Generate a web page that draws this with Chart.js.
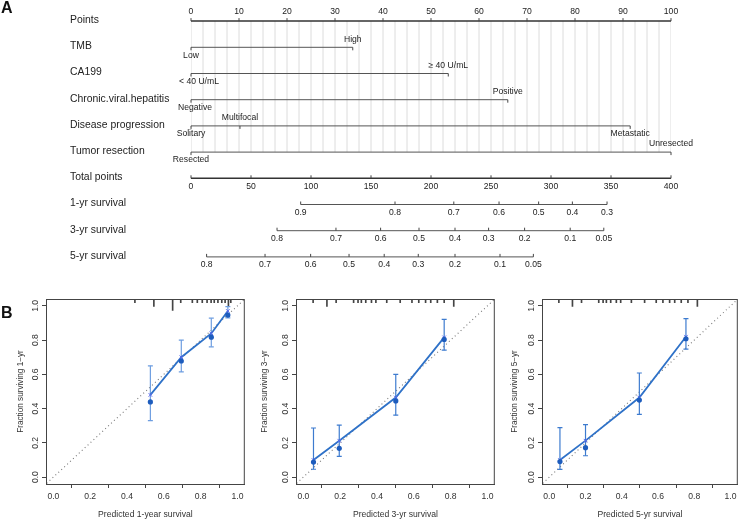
<!DOCTYPE html>
<html>
<head>
<meta charset="utf-8">
<script src="https://cdn.jsdelivr.net/npm/chart.js"></script>
<style>
    body { margin: 0; background: #fff; }
    #page { position: relative; width: 743px; height: 523px; overflow: hidden; font-family: 'Liberation Sans', Arial, sans-serif; }
    canvas { position: absolute; }
    .panel { position: absolute; font-weight: bold; font-size: 16px; color: #111; line-height: 18px; }
</style>
</head>
<body>
<div id="page">
    <canvas id="nomo" width="743" height="285" style="left:0;top:0"></canvas>
    <canvas id="cal1" width="250" height="238" style="left:0;top:285px"></canvas>
    <canvas id="cal3" width="250" height="238" style="left:250px;top:285px"></canvas>
    <canvas id="cal5" width="250" height="238" style="left:493px;top:285px"></canvas>
    <div class="panel" style="left:1px;top:-1px">A</div>
    <div class="panel" style="left:1px;top:304px">B</div>
</div>
<script>
// Nomogram (panel A)
const rowNames = ['Points', 'TMB', 'CA199', 'Chronic.viral.hepatitis', 'Disease progression',
    'Tumor resection', 'Total points', '1-yr survival', '3-yr survival', '5-yr survival'];
const pointTicks = [0, 10, 20, 30, 40, 50, 60, 70, 80, 90, 100];
const totalTicks = [0, 50, 100, 150, 200, 250, 300, 350, 400];

const tmbLevels = ['Low', 'High'];
const tmbPoints = [0, 33.7];
const ca199Levels = ['< 40 U/mL', '≥ 40 U/mL'];
const ca199Points = [0, 53.6];
const hepatitisLevels = ['Negative', 'Positive'];
const hepatitisPoints = [0, 66];
const progressionLevels = ['Solitary', 'Multifocal', 'Metastatic'];
const progressionPoints = [0, 10.2, 91.5];
const resectionLevels = ['Resected', 'Unresected'];
const resectionPoints = [0, 100];

// survival probabilities and where they sit on the total points scale
const surv1Labels = ['0.9', '0.8', '0.7', '0.6', '0.5', '0.4', '0.3'];
const surv1Total = [91.4, 170, 219, 256.7, 289.7, 317.8, 346.7];
const surv3Labels = ['0.8', '0.7', '0.6', '0.5', '0.4', '0.3', '0.2', '0.1', '0.05'];
const surv3Total = [71.7, 120.8, 158, 190, 220, 248, 278, 316, 344];
const surv5Labels = ['0.8', '0.7', '0.6', '0.5', '0.4', '0.3', '0.2', '0.1', '0.05'];
const surv5Total = [13, 61.7, 99.7, 131.7, 161, 189.4, 220, 257.5, 285.3];

// Calibration curves (panel B)
const calTicks = [0, 0.2, 0.4, 0.6, 0.8, 1];
const idealLine = [-0.1, 1.1];

const pred1 = [0.527, 0.695, 0.858, 0.948];
const obs1 = [0.439, 0.678, 0.817, 0.946];
const corr1 = [0.480, 0.700, 0.839, 0.970];
const lo1 = [0.330, 0.614, 0.761, 0.930];
const hi1 = [0.650, 0.800, 0.928, 0.996];
const rug1At = [0.443, 0.546, 0.648, 0.692, 0.755, 0.782, 0.809, 0.835, 0.857, 0.874, 0.894, 0.915, 0.933, 0.951, 0.964];
const rug1Count = [1, 2, 3, 1, 1, 1, 1, 1, 1, 1, 1, 1, 1, 2, 1];

const pred3 = [0.055, 0.195, 0.502, 0.765];
const obs3 = [0.088, 0.168, 0.445, 0.804];
const corr3 = [0.100, 0.213, 0.465, 0.816];
const lo3 = [0.046, 0.121, 0.362, 0.741];
const hi3 = [0.287, 0.304, 0.600, 0.921];
const rug3At = [0.053, 0.128, 0.178, 0.273, 0.297, 0.315, 0.339, 0.37, 0.394, 0.453, 0.526, 0.59, 0.627, 0.664, 0.692, 0.728, 0.765, 0.817];
const rug3Count = [1, 2, 1, 1, 1, 1, 1, 1, 1, 1, 1, 1, 1, 1, 1, 1, 1, 2];

const pred5 = [0.059, 0.200, 0.497, 0.754];
const obs5 = [0.091, 0.172, 0.450, 0.808];
const corr5 = [0.100, 0.213, 0.465, 0.820];
const lo5 = [0.045, 0.125, 0.366, 0.747];
const hi5 = [0.289, 0.307, 0.608, 0.925];
const rug5At = [0.053, 0.128, 0.178, 0.273, 0.297, 0.315, 0.339, 0.37, 0.394, 0.453, 0.526, 0.59, 0.627, 0.664, 0.692, 0.728, 0.765, 0.817];
const rug5Count = [1, 2, 1, 1, 1, 1, 1, 1, 1, 1, 1, 1, 1, 1, 1, 1, 1, 2];

const FONT = "'Liberation Sans', Arial, sans-serif";
const pointsMax = 100;
const totalMax = 400;
const toPoints = t => t / totalMax * pointsMax;

const levelRows = [
    { row: 1, levels: tmbLevels, points: tmbPoints },
    { row: 2, levels: ca199Levels, points: ca199Points },
    { row: 3, levels: hepatitisLevels, points: hepatitisPoints },
    { row: 4, levels: progressionLevels, points: progressionPoints },
    { row: 5, levels: resectionLevels, points: resectionPoints }
];
const survRows = [
    { row: 7, labels: surv1Labels, total: surv1Total },
    { row: 8, labels: surv3Labels, total: surv3Total },
    { row: 9, labels: surv5Labels, total: surv5Total }
];
// small horizontal nudges where the original shifted a label
const labelNudge = { '< 40 U/mL': 8, 'Negative': 4 };

function hline(a, b, row, color, width) {
    return {
        data: [{ x: a, y: row }, { x: b, y: row }],
        borderColor: color, borderWidth: width, pointRadius: 0
    };
}

// nomogram datasets
const nomoSets = [];
nomoSets.push(hline(0, pointsMax, 0, '#333', 1.5));
levelRows.forEach(r => {
    nomoSets.push(hline(Math.min(...r.points), Math.max(...r.points), r.row, '#555', 1));
});
nomoSets.push(hline(0, pointsMax, 6, '#333', 1.5));
survRows.forEach(r => {
    nomoSets.push(hline(toPoints(r.total[0]), toPoints(r.total[r.total.length - 1]), r.row, '#555', 1));
});
// faint vertical reference lines every 2.5 points, from Points down to Tumor resection
for (let g = 0; g <= pointsMax; g += 2.5) {
    nomoSets.push({
        data: [{ x: g, y: 0 }, { x: g, y: 5 }],
        borderColor: '#ebebeb', borderWidth: 1, pointRadius: 0
    });
}

const nomoText = {
    id: 'nomoText',
    afterDatasetsDraw(chart) {
        const { ctx, scales: { x, y } } = chart;
        const px = v => x.getPixelForValue(v);
        const py = r => y.getPixelForValue(r);
        const tick = (xv, row, len) => {
            ctx.beginPath();
            ctx.moveTo(px(xv), py(row));
            ctx.lineTo(px(xv), py(row) + len);
            ctx.stroke();
        };
        ctx.save();
        ctx.fillStyle = '#222';
        ctx.strokeStyle = '#444';
        ctx.lineWidth = 1;
        ctx.textBaseline = 'middle';

        ctx.font = '10.4px ' + FONT;
        ctx.textAlign = 'left';
        rowNames.forEach((name, i) => ctx.fillText(name, 70, py(i) - 1));

        ctx.font = '8.6px ' + FONT;
        ctx.textAlign = 'center';
        pointTicks.forEach(v => {
            tick(v, 0, -3);
            ctx.fillText(String(v), px(v), py(0) - 9);
        });
        levelRows.forEach(r => {
            r.levels.forEach((lab, i) => {
                tick(r.points[i], r.row, 3);
                const above = i % 2 === 1;
                ctx.fillText(lab, px(r.points[i]) + (labelNudge[lab] || 0), py(r.row) + (above ? -8 : 8));
            });
        });
        totalTicks.forEach(t => {
            tick(toPoints(t), 6, -3);
            ctx.fillText(String(t), px(toPoints(t)), py(6) + 8);
        });
        survRows.forEach(r => {
            r.total.forEach((t, i) => {
                tick(toPoints(t), r.row, -3);
                ctx.fillText(r.labels[i], px(toPoints(t)), py(r.row) + 8);
            });
        });
        ctx.restore();
    }
};

new Chart(document.getElementById('nomo'), {
    type: 'line',
    data: { datasets: nomoSets },
    options: {
        responsive: false,
        animation: false,
        layout: { padding: { left: 191, right: 72, top: 8, bottom: 15 } },
        scales: {
            x: { type: 'linear', min: 0, max: pointsMax, display: false },
            y: { type: 'linear', min: -0.5, max: 9.5, reverse: true, display: false }
        },
        plugins: { legend: { display: false }, tooltip: { enabled: false } }
    },
    plugins: [nomoText]
});

// calibration plots
const axisMin = -0.04;
const axisMax = 1.04;
const rugUnit = 0.022;

const boxFrame = {
    id: 'boxFrame',
    afterDraw(chart) {
        const { ctx, chartArea: a } = chart;
        ctx.save();
        ctx.strokeStyle = '#444';
        ctx.lineWidth = 1;
        ctx.strokeRect(a.left + 0.5, a.top + 0.5, a.right - a.left - 1, a.bottom - a.top);
        ctx.restore();
    }
};

function calibrationChart(canvasId, c) {
    const bars = [];
    c.pred.forEach((p, i) => {
        bars.push({ x: p, y: c.lo[i] }, { x: p, y: c.hi[i] }, { x: p, y: null });
    });
    const rug = c.rugAt.map((p, i) => ({ x: p, y: [axisMax - c.rugCount[i] * rugUnit, axisMax] }));
    const tickFont = { family: FONT, size: 8.6 };
    return new Chart(document.getElementById(canvasId), {
        type: 'line',
        data: {
            datasets: [
                {
                    data: c.pred.map((p, i) => ({ x: p, y: c.obs[i] })),
                    showLine: false, pointRadius: 2.6, pointBackgroundColor: '#1d5cbd', pointBorderWidth: 0
                },
                {
                    data: c.pred.map((p, i) => ({ x: p, y: c.corr[i] })),
                    borderColor: '#2f72c8', borderWidth: 1.8,
                    pointStyle: 'crossRot', pointRadius: 2.5, pointBorderColor: '#5b66ee', pointBorderWidth: 1
                },
                {
                    data: bars, borderColor: c.barColor, borderWidth: 1.2, spanGaps: false,
                    pointStyle: 'line', pointRadius: 2.5, pointBorderColor: c.barColor, pointBorderWidth: 1.2
                },
                {
                    data: idealLine.map(v => ({ x: v, y: v })),
                    borderColor: '#777', borderWidth: 1.1, borderDash: [1, 3], pointRadius: 0
                },
                {
                    type: 'bar', data: rug, backgroundColor: '#444', barThickness: 1, grouped: false
                }
            ]
        },
        options: {
            responsive: false,
            animation: false,
            layout: { padding: { left: c.padLeft, right: c.padRight, top: 14, bottom: 3 } },
            plugins: { legend: { display: false }, tooltip: { enabled: false } },
            scales: {
                x: {
                    type: 'linear', min: axisMin, max: axisMax, offset: false,
                    afterBuildTicks: s => { s.ticks = calTicks.map(v => ({ value: v })); },
                    afterFit: s => { s.height = 36; },
                    ticks: { font: tickFont, color: '#333', padding: 3, maxRotation: 0, autoSkip: false, callback: v => v.toFixed(1) },
                    grid: { drawOnChartArea: false, tickLength: 4, color: '#444' },
                    border: { color: '#444' },
                    title: { display: true, text: c.xTitle, font: { family: FONT, size: 8.6 }, color: '#333', padding: 0 }
                },
                y: {
                    type: 'linear', min: axisMin, max: axisMax,
                    afterBuildTicks: s => { s.ticks = calTicks.map(v => ({ value: v })); },
                    afterFit: s => { s.width = c.yWidth; },
                    ticks: { font: tickFont, color: '#333', padding: 0, minRotation: 90, maxRotation: 90, crossAlign: 'center', autoSkip: false, callback: v => v.toFixed(1) },
                    grid: { drawOnChartArea: false, tickLength: 4, color: '#444' },
                    border: { color: '#444' },
                    title: { display: true, text: c.yTitle, font: { family: FONT, size: 8.2 }, color: '#333', padding: 0 }
                }
            }
        },
        plugins: [boxFrame]
    });
}

calibrationChart('cal1', {
    pred: pred1, obs: obs1, corr: corr1, lo: lo1, hi: hi1, rugAt: rug1At, rugCount: rug1Count,
    barColor: '#6d9de0', xTitle: 'Predicted 1-year survival', yTitle: 'Fraction surviving 1\u2212yr',
    padLeft: 16, yWidth: 30, padRight: 3
});
calibrationChart('cal3', {
    pred: pred3, obs: obs3, corr: corr3, lo: lo3, hi: hi3, rugAt: rug3At, rugCount: rug3Count,
    barColor: '#3d7bcf', xTitle: 'Predicted 3-yr survival', yTitle: 'Fraction surviving 3\u2212yr',
    padLeft: 10, yWidth: 36, padRight: 5
});
calibrationChart('cal5', {
    pred: pred5, obs: obs5, corr: corr5, lo: lo5, hi: hi5, rugAt: rug5At, rugCount: rug5Count,
    barColor: '#3d7bcf', xTitle: 'Predicted 5-yr survival', yTitle: 'Fraction surviving 5\u2212yr',
    padLeft: 17, yWidth: 32, padRight: 2
});
</script>
</body>
</html>
